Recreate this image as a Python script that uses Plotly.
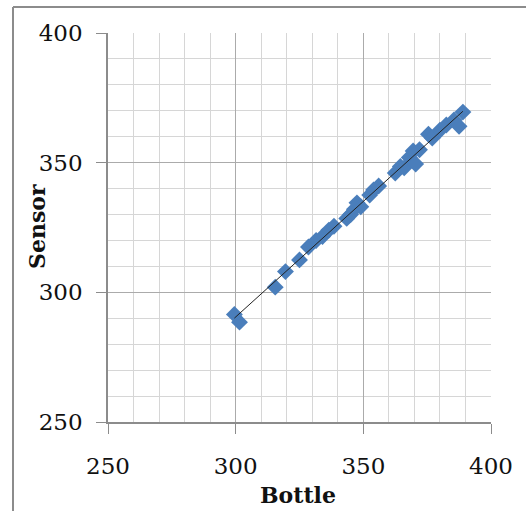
import numpy as np
import plotly.graph_objects as go

bottle = [299.5, 301.5, 315.5, 319.5, 325.0, 328.5, 331.5, 334.0, 336.5, 338.5,
          343.5, 345.0, 346.5, 347.5, 349.0, 352.5, 354.0, 356.0, 362.5, 364.5,
          366.0, 368.0, 369.5, 370.5, 372.0, 375.5, 377.0, 380.0, 382.5, 385.5,
          387.5, 389.0]
sensor = [291.5, 288.5, 302.0, 308.0, 312.5, 317.5, 320.0, 321.5, 324.0, 325.5,
          328.5, 330.0, 332.0, 334.5, 333.0, 337.5, 339.5, 341.0, 346.0, 348.5,
          348.0, 352.0, 354.5, 349.5, 355.0, 361.0, 359.5, 362.5, 364.5, 366.5,
          364.0, 369.5]
tick_vals = [250, 300, 350, 400]

slope, intercept = np.polyfit(bottle, sensor, 1)
fit_x = [min(bottle), max(bottle)]
fit_y = [slope * v + intercept for v in fit_x]

fig = go.Figure()
fig.add_trace(go.Scatter(x=bottle, y=sensor, mode="markers",
                         marker=dict(symbol="diamond", size=13, color="#4A7EBB",
                                     line=dict(width=0)),
                         showlegend=False, hoverinfo="skip"))
fig.add_trace(go.Scatter(x=fit_x, y=fit_y, mode="lines",
                         line=dict(color="#222222", width=1),
                         showlegend=False, hoverinfo="skip"))

font_family = "DejaVu Serif"
axis_common = dict(
    range=[250, 400], tickvals=tick_vals, showgrid=True, gridcolor="#ababab",
    gridwidth=1, zeroline=False, showline=True, linecolor="#8c8c8c", linewidth=1.5,
    ticks="outside", ticklen=10, tickcolor="#8c8c8c", tickwidth=1, automargin=False,
    tickfont=dict(family=font_family, size=23, color="#111111"),
    minor=dict(dtick=10, showgrid=True, gridcolor="#d6d6d6", gridwidth=1, ticks=""),
)

L, T, PW, PH = 108, 33, 383, 389
fig.update_layout(
    width=526, height=511,
    margin=dict(l=L, r=526 - L - PW, t=T, b=511 - T - PH),
    paper_bgcolor="white", plot_bgcolor="white",
    xaxis=dict(**axis_common, ticklabelstandoff=13),
    yaxis=dict(**axis_common, ticklabelstandoff=9),
    annotations=[
        dict(text="<b>Bottle</b>", xref="paper", yref="paper",
             x=(298 - L) / PW, y=1 - (495 - T) / PH, showarrow=False,
             xanchor="center", yanchor="middle",
             font=dict(family=font_family, size=22, color="#111111")),
        dict(text="<b>Sensor</b>", xref="paper", yref="paper",
             x=(37 - L) / PW, y=1 - (227 - T) / PH, showarrow=False, textangle=-90,
             xanchor="center", yanchor="middle",
             font=dict(family=font_family, size=22, color="#111111")),
    ],
    shapes=[
        dict(type="line", xref="paper", yref="paper",
             x0=(13 - L) / PW, x1=(13 - L) / PW, y0=1 + (T - 7) / PH, y1=-0.3,
             line=dict(color="#8c8c8c", width=2)),
        dict(type="line", xref="paper", yref="paper",
             x0=(13 - L) / PW, x1=(530 - L) / PW, y0=1 + (T - 7) / PH, y1=1 + (T - 7) / PH,
             line=dict(color="#8c8c8c", width=2)),
    ],
)

fig.write_html("out.html", config={"displayModeBar": False},
               post_script="document.body.style.margin='0';")
